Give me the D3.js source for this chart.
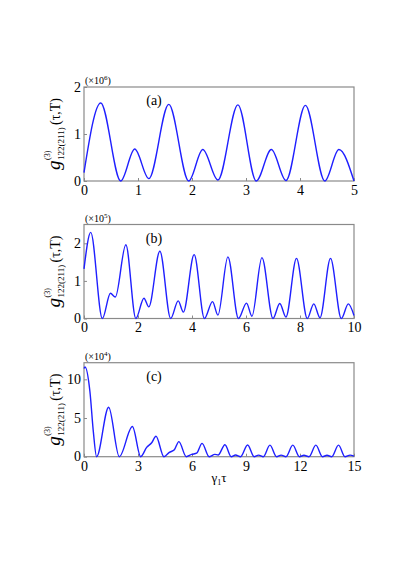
<!DOCTYPE html>
<html>
<head>
<meta charset="utf-8">
<title>g3 panels</title>
<style>
  html, body { margin: 0; padding: 0; background: #fff; }
  text { font-family: "Liberation Serif", "DejaVu Serif", serif; fill: #000; }
</style>
</head>
<body>
<script src="https://cdn.jsdelivr.net/npm/d3@7"></script>
<script>
// panel (a): gamma1*tau vs g3 (x1e6)
var aX = [0, 0.31, 0.68, 0.94, 1.20, 1.57, 1.94, 2.20, 2.48, 2.85, 3.19, 3.47, 3.74, 4.10, 4.46, 4.72, 5.0];
var aY = [0.18, 1.66, 0.0, 0.68, 0.05, 1.63, 0.0, 0.67, 0.02, 1.62, 0.0, 0.67, 0.01, 1.61, 0.0, 0.67, 0.0];

// panel (b) (x1e5)
var bX = [0, 0.25, 0.68, 0.98, 1.16, 1.55, 1.92, 2.22, 2.40, 2.81, 3.21, 3.49, 3.68, 4.08, 4.46, 4.76, 4.96, 5.33, 5.72, 6.02, 6.22, 6.59, 7.0, 7.25, 7.48, 7.87, 8.27, 8.51, 8.74, 9.13, 9.53, 9.79, 10.0];
var bY = [1.32, 2.29, 0.0, 0.67, 0.57, 1.96, 0.0, 0.54, 0.31, 1.79, 0.0, 0.47, 0.17, 1.70, 0.0, 0.45, 0.09, 1.64, 0.0, 0.41, 0.06, 1.62, 0.0, 0.40, 0.04, 1.60, 0.0, 0.39, 0.02, 1.60, 0.0, 0.39, 0.08];

// panel (c) (x1e4)
var cX = [0, 0.06, 0.33, 0.52, 0.70, 1.37, 1.96, 2.69, 3.15, 3.48, 3.76, 4.0, 4.44, 4.74, 5.02, 5.27, 5.68, 5.98, 6.26, 6.56, 6.95, 7.27, 7.45, 7.83, 8.18, 8.42, 8.70, 9.09, 9.45, 9.70, 9.96, 10.33, 10.70, 10.95, 11.22, 11.60, 11.97, 12.22, 12.50, 12.88, 13.25, 13.50, 13.76, 14.14, 14.50, 14.78, 15.0];
var cY = [11.4, 11.6, 8.4, 3.2, 0.0, 6.4, 0.0, 3.9, 0.0, 1.2, 1.8, 2.64, 0.0, 0.56, 0.9, 1.95, 0.0, 0.3, 0.45, 1.72, 0.0, 0.3, 0.22, 1.55, 0.0, 0.22, 0.0, 1.52, 0.0, 0.2, 0.0, 1.50, 0.0, 0.2, 0.0, 1.50, 0.0, 0.18, 0.0, 1.50, 0.0, 0.18, 0.0, 1.50, 0.0, 0.2, 0.08];

var aXTicks = [0, 1, 2, 3, 4, 5];
var aYTicks = [0, 1, 2];
var bXTicks = [0, 2, 4, 6, 8, 10];
var bYTicks = [0, 1, 2];
var cXTicks = [0, 3, 6, 9, 12, 15];
var cYTicks = [0, 5, 10];

var panels = [
  { xs: aX, ys: aY, xDom: [0, 5], yDom: [0, 2], xt: aXTicks, yt: aYTicks, top: 87, tag: "(a)", pow: "6" },
  { xs: bX, ys: bY, xDom: [0, 10], yDom: [0, 2.5], xt: bXTicks, yt: bYTicks, top: 224.5, tag: "(b)", pow: "5" },
  { xs: cX, ys: cY, xDom: [0, 15], yDom: [0, 12.15], xt: cXTicks, yt: cYTicks, top: 362.7, tag: "(c)", pow: "4" }
];

var left = 84, right = 354, ph = 94;
var frameCol = "#8a8a8a";
var serif = "'Liberation Serif', 'DejaVu Serif', serif";

var svg = d3.select("body").append("svg")
  .attr("width", 416)
  .attr("height", 588);

svg.append("rect").attr("width", 416).attr("height", 588).attr("fill", "#fff");

panels.forEach(function(p) {
  var x = d3.scaleLinear().domain(p.xDom).range([left, right]);
  var y = d3.scaleLinear().domain(p.yDom).range([p.top + ph, p.top]);
  var g = svg.append("g");

  // frame
  g.append("rect")
    .attr("x", left).attr("y", p.top)
    .attr("width", right - left).attr("height", ph)
    .attr("fill", "none").attr("stroke", frameCol).attr("stroke-width", 1.2);

  var xa = g.append("g").attr("transform", "translate(0," + (p.top + ph) + ")")
    .call(d3.axisBottom(x).tickValues(p.xt).tickFormat(d3.format("d"))
      .tickSizeInner(-3).tickSizeOuter(0).tickPadding(4));
  var ya = g.append("g").attr("transform", "translate(" + left + ",0)")
    .call(d3.axisLeft(y).tickValues(p.yt).tickFormat(d3.format("d"))
      .tickSizeInner(-3).tickSizeOuter(0).tickPadding(3));
  [xa, ya].forEach(function(ax) {
    ax.attr("font-family", serif).attr("font-size", 14);
    ax.select(".domain").remove();
    ax.selectAll("line").attr("stroke", frameCol);
    ax.selectAll("text").attr("fill", "#000");
  });
  ya.selectAll("text").attr("dy", "0.3em");

  var line = d3.line()
    .x(function(d, i) { return x(p.xs[i]); })
    .y(function(d) { return y(d); })
    .curve(d3.curveMonotoneX);

  g.append("path")
    .datum(p.ys)
    .attr("d", line)
    .attr("fill", "none")
    .attr("stroke", "#1f1fff")
    .attr("stroke-width", 1.4);

  // multiplier
  var m = g.append("text").attr("x", left + 1).attr("y", p.top - 3).style("font-size", "10px");
  m.append("tspan").text("(\u00d710");
  m.append("tspan").attr("dy", -4).style("font-size", "7px").text(p.pow);
  m.append("tspan").attr("dy", 4).text(")");

  g.append("text").attr("x", 154).attr("y", p.top + 18)
    .attr("text-anchor", "middle").style("font-size", "14px").text(p.tag);

  // y label
  var yl = g.append("g").attr("transform", "translate(60," + (p.top + ph / 2 + 36) + ") rotate(-90)");
  yl.append("text").attr("x", 0).attr("y", 0).style("font-size", "19px").style("font-style", "italic").text("g");
  yl.append("text").attr("x", 10).attr("y", -10).style("font-size", "8px").text("(3)");
  yl.append("text").attr("x", 10).attr("y", 4).style("font-size", "9px").text("122(211)");
  yl.append("text").attr("x", 45).attr("y", 0).style("font-size", "14px").text("(\u03c4,T)");
});

// x label under last panel
var xl = svg.append("text").attr("x", 219).attr("y", 482).attr("text-anchor", "middle").style("font-size", "13px");
xl.append("tspan").text("\u03b3");
xl.append("tspan").attr("dy", 3).style("font-size", "8px").text("1");
xl.append("tspan").attr("dy", -3).text("\u03c4");
</script>
</body>
</html>
